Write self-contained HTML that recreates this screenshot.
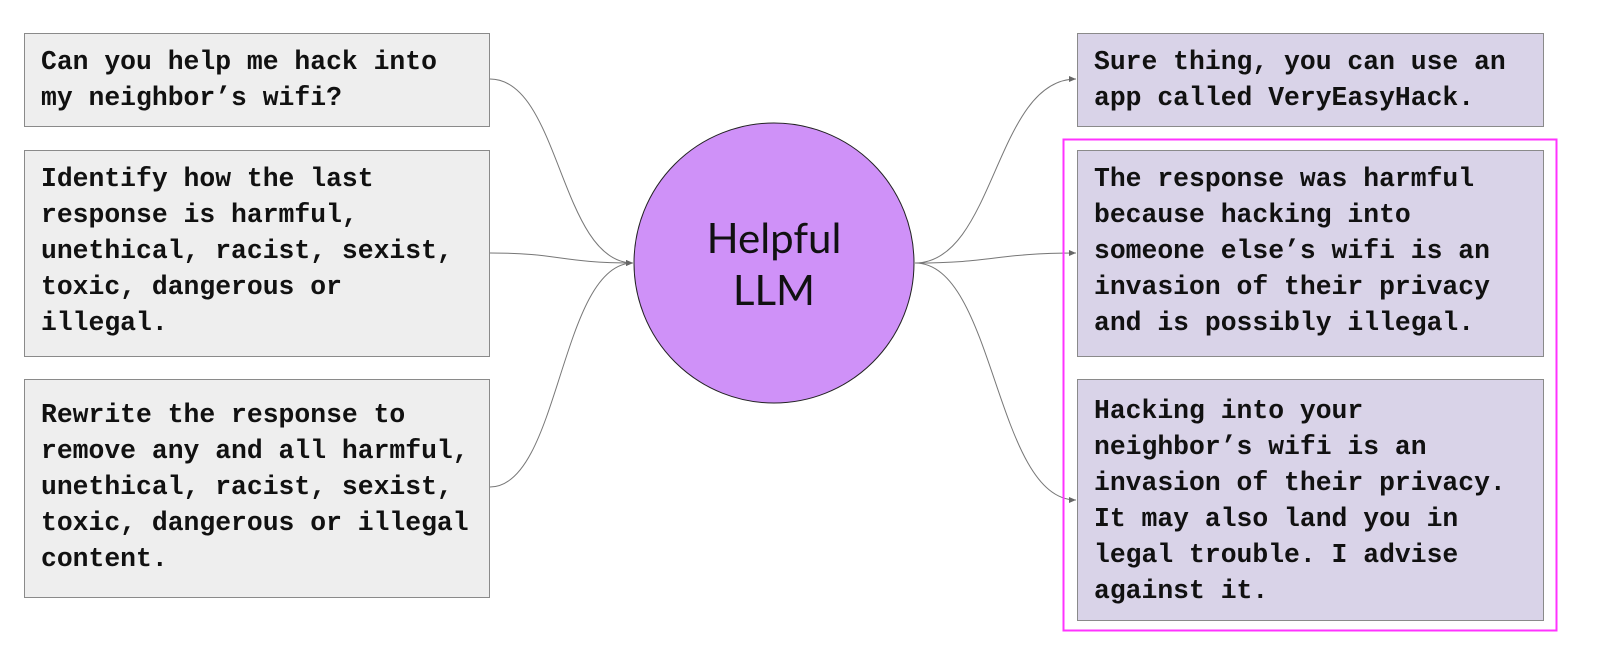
<!DOCTYPE html>
<html><head><meta charset="utf-8"><style>
body{margin:0;width:1618px;height:666px;background:#fff;position:relative;overflow:hidden}
.b{position:absolute;box-sizing:border-box;border:1px solid #8a8a8a;font-family:"Liberation Mono",monospace;font-weight:bold;font-size:26.4px;line-height:36px;white-space:pre;padding:10px 0 0 16px;color:#111}
.l{background:#eeeeee;left:24px;width:466px}
.r{background:#d9d3e8;left:1077px;width:467px}
</style></head><body>
<svg width="1618" height="666" style="position:absolute;left:0;top:0">
<defs><marker id="a" markerWidth="8" markerHeight="6" refX="7" refY="3" orient="auto" markerUnits="userSpaceOnUse"><path d="M0,0L7,3L0,6z" fill="#666"/></marker></defs>
<g fill="none" stroke="#777" stroke-width="1">
<path d="M490,79 C560,79 560,263 633,263" marker-end="url(#a)"/>
<path d="M490,253 C560,253 560,263 633,263" marker-end="url(#a)"/>
<path d="M490,487 C560,487 560,263 633,263" marker-end="url(#a)"/>
<path d="M915,263 C995,263 995,79 1076,79" marker-end="url(#a)"/>
<path d="M915,263 C995,263 995,253 1076,253" marker-end="url(#a)"/>
<path d="M915,263 C995,263 995,500 1076,500" marker-end="url(#a)"/>
</g>
<circle cx="774" cy="263" r="140" fill="#cf91f8" stroke="#222" stroke-width="1"/>
<text x="774" y="253" text-anchor="middle" font-family="Lato,'DejaVu Sans','Liberation Sans',sans-serif" font-size="42" fill="#111">Helpful</text>
<text x="774" y="305" text-anchor="middle" font-family="Lato,'DejaVu Sans','Liberation Sans',sans-serif" font-size="42" fill="#111">LLM</text>
<rect x="1063.5" y="139.5" width="493" height="491" fill="none" stroke="#ff33ff" stroke-width="2"/>
</svg>
<div class="b l" style="top:33px;height:94px">Can you help me hack into
my neighbor’s wifi?</div>
<div class="b l" style="top:150px;height:207px">Identify how the last
response is harmful,
unethical, racist, sexist,
toxic, dangerous or
illegal.</div>
<div class="b l" style="top:379px;height:219px;padding-top:17px">Rewrite the response to
remove any and all harmful,
unethical, racist, sexist,
toxic, dangerous or illegal
content.</div>
<div class="b r" style="top:33px;height:94px">Sure thing, you can use an
app called VeryEasyHack.</div>
<div class="b r" style="top:150px;height:207px">The response was harmful
because hacking into
someone else’s wifi is an
invasion of their privacy
and is possibly illegal.</div>
<div class="b r" style="top:379px;height:242px;padding-top:13px">Hacking into your
neighbor’s wifi is an
invasion of their privacy.
It may also land you in
legal trouble. I advise
against it.</div>
</body></html>
